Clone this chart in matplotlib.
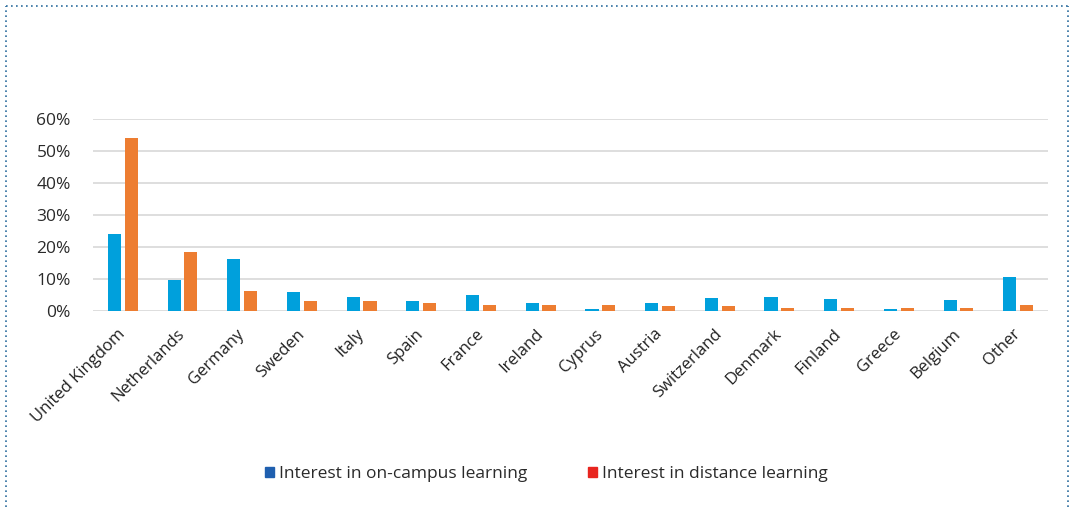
import numpy as np
import matplotlib.pyplot as plt
from matplotlib.lines import Line2D
from matplotlib.patches import Patch

countries = ["United Kingdom", "Netherlands", "Germany", "Sweden", "Italy", "Spain",
             "France", "Ireland", "Cyprus", "Austria", "Switzerland", "Denmark",
             "Finland", "Greece", "Belgium", "Other"]
on_campus = [24.0, 9.7, 16.2, 6.0, 4.5, 3.0, 5.0, 2.4, 0.6, 2.4, 4.2, 4.4, 3.6, 0.5, 3.5, 10.6]
distance = [54.0, 18.4, 6.3, 3.2, 3.2, 2.4, 2.0, 2.0, 1.8, 1.6, 1.5, 0.9, 0.9, 0.8, 0.9, 2.0]
yticks = [0, 10, 20, 30, 40, 50, 60]

plt.rcParams['font.family'] = ['Open Sans', 'DejaVu Sans']

fig = plt.figure(figsize=(10.75, 5.07), dpi=100)
ax = fig.add_axes([93 / 1075, 1 - 311 / 507, (1048 - 93) / 1075, (311 - 119) / 507])

x = np.arange(len(countries))
w = 0.22
ax.bar(x - 0.14, on_campus, w, color='#00A0DC', zorder=3)
ax.bar(x + 0.14, distance, w, color='#ED7D31', zorder=3)

ax.set_xlim(-0.5, len(countries) - 0.5)
ax.set_ylim(0, 60)
ax.set_yticks(yticks)
ax.set_yticklabels([f"{v}%" for v in yticks], fontsize=12.5, color='#2a2a2a')
ax.yaxis.grid(True, color='#DEDEDE', linewidth=1.4, zorder=0)
ax.set_xticks(x)
ax.set_xticklabels(countries, rotation=45, ha='right', va='center', rotation_mode='anchor',
                   fontsize=12, color='#222222')
ax.tick_params(axis='both', length=0)
ax.tick_params(axis='x', pad=15)
ax.tick_params(axis='y', pad=16)
for s in ax.spines.values():
    s.set_visible(False)

# legend below the chart
handles = [Patch(color='#1F5FAF'), Patch(color='#E8251F')]
fig.legend(handles, ["Interest in on-campus learning", "Interest in distance learning"],
           loc='center', bbox_to_anchor=(0.508, 1 - 474 / 507), ncol=2, frameon=False,
           fontsize=12.5, handlelength=0.55, handleheight=0.55, handletextpad=0.25,
           columnspacing=3.5, labelcolor='#2a2a2a')

# dotted frame around the figure
fw, fh = 1075, 507
frame = dict(color='#2E6E9E', linestyle=(0, (1, 2)), linewidth=1.2, transform=fig.transFigure)
fig.add_artist(Line2D([6 / fw, 1068 / fw], [1 - 6 / fh, 1 - 6 / fh], **frame))
fig.add_artist(Line2D([6 / fw, 6 / fw], [0, 1 - 6 / fh], **frame))
fig.add_artist(Line2D([1068 / fw, 1068 / fw], [0, 1 - 6 / fh], **frame))

fig.savefig('out.png', dpi=100)
